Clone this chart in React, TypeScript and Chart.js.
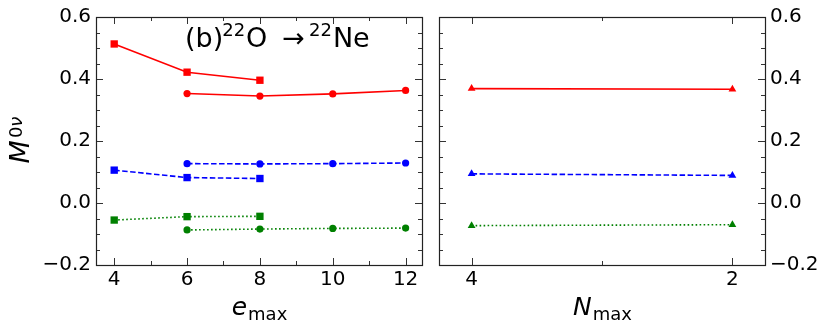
import React, { useEffect, useRef } from "react";
import { Chart, registerables } from "chart.js";
Chart.register(...registerables);

// ---- data ----
const emaxSquares = [4, 6, 8];
const emaxCircles = [6, 8, 10, 12];
const nmaxValues = [4, 2];

const redSquares = [0.513, 0.422, 0.396];
const redCircles = [0.353, 0.345, 0.352, 0.363];
const blueSquares = [0.106, 0.082, 0.079];
const blueCircles = [0.127, 0.126, 0.127, 0.129];
const greenSquares = [-0.055, -0.044, -0.043];
const greenCircles = [-0.087, -0.084, -0.082, -0.081];

const redTriangles = [0.369, 0.367];
const blueTriangles = [0.094, 0.089];
const greenTriangles = [-0.073, -0.07];

const yTicks = [-0.2, 0, 0.2, 0.4, 0.6];
const yMinorTicks = [-0.15, -0.1, -0.05, 0.05, 0.1, 0.15, 0.25, 0.3, 0.35, 0.45, 0.5, 0.55];
const emaxTicks = [4, 6, 8, 10, 12];
const emaxMinorTicks = [5, 7, 9, 11];
const nmaxTicks = [2, 4];
const nmaxMinorTicks = [3];

const RED = "#ff0000";
const BLUE = "#0000ff";
const GREEN = "#008000";
const FONT = "DejaVu Sans";

const fmtY = (v: number) => {
  const s = Math.abs(v) < 1e-9 ? "0.0" : v.toFixed(1);
  return s.replace("-", "\u2212");
};

const pts = (xs: number[], ys: number[]) => xs.map((x, i) => ({ x, y: ys[i] }));

function ds(xs: number[], ys: number[], color: string, style: string, radius: number, dash: number[]) {
  return {
    data: pts(xs, ys),
    showLine: true,
    borderColor: color,
    backgroundColor: color,
    borderWidth: 1.6,
    borderDash: dash,
    pointStyle: style,
    pointRadius: radius,
    pointHoverRadius: radius,
    pointBorderWidth: 0,
    pointBackgroundColor: color,
    tension: 0,
  };
}

const DASHED = [5.5, 2.5];
const DOTTED = [1.6, 2.4];

const frameTicks = {
  id: "frameTicks",
  afterDraw(chart: any, _args: any, opts: any) {
    const ctx = chart.ctx;
    const { left, right, top, bottom } = chart.chartArea;
    const xs = chart.scales.x;
    const ys = chart.scales.y;
    ctx.save();
    ctx.strokeStyle = "#333";
    ctx.lineWidth = 1;
    const vline = (v: number, len: number) => {
      const p = Math.round(xs.getPixelForValue(v)) + 0.5;
      ctx.beginPath();
      ctx.moveTo(p, bottom);
      ctx.lineTo(p, bottom - len);
      ctx.moveTo(p, top);
      ctx.lineTo(p, top + len);
      ctx.stroke();
    };
    const hline = (v: number, len: number) => {
      const p = Math.round(ys.getPixelForValue(v)) + 0.5;
      ctx.beginPath();
      ctx.moveTo(left, p);
      ctx.lineTo(left + len, p);
      ctx.moveTo(right, p);
      ctx.lineTo(right - len, p);
      ctx.stroke();
    };
    opts.xMajor.forEach((v: number) => vline(v, 7));
    opts.xMinor.forEach((v: number) => vline(v, 4));
    opts.yMajor.forEach((v: number) => hline(v, 7));
    opts.yMinor.forEach((v: number) => hline(v, 4));
    ctx.strokeStyle = "#222";
    ctx.lineWidth = 1.2;
    ctx.strokeRect(Math.round(left) + 0.5, Math.round(top) + 0.5, Math.round(right - left), Math.round(bottom - top));
    ctx.restore();
  },
};

const labelsPlugin = {
  id: "labelsPlugin",
  afterDraw(chart: any, _args: any, opts: any) {
    const ctx = chart.ctx;
    const { left, right } = chart.chartArea;
    ctx.save();
    ctx.fillStyle = "#000";
    ctx.textBaseline = "alphabetic";
    ctx.textAlign = "left";
    // x label with subscript
    const mainFont = `italic ${opts.xMainSize}px "${FONT}"`;
    const subFont = `${opts.xSubSize}px "${FONT}"`;
    ctx.font = mainFont;
    const w1 = ctx.measureText(opts.xMain).width;
    ctx.font = subFont;
    const w2 = ctx.measureText("max").width;
    const cx = (left + right) / 2;
    const x0 = cx - (w1 + w2) / 2;
    ctx.font = mainFont;
    ctx.fillText(opts.xMain, x0, opts.xBaseline);
    ctx.font = subFont;
    ctx.fillText("max", x0 + w1 + 1, opts.xBaseline + 5);

    if (opts.yLabel) {
      ctx.save();
      ctx.translate(29, 140);
      ctx.rotate(-Math.PI / 2);
      const mF = `italic 27px "${FONT}"`;
      const zF = `18px "${FONT}"`;
      const nF = `italic 18px "${FONT}"`;
      ctx.font = mF;
      const mw = ctx.measureText("M").width;
      ctx.font = zF;
      const zw = ctx.measureText("0").width;
      ctx.font = nF;
      const nw = ctx.measureText("\u03bd").width;
      const tot = mw + zw + nw + 2;
      let lx = -tot / 2;
      ctx.font = mF;
      ctx.fillText("M", lx, 0);
      lx += mw + 2;
      ctx.font = zF;
      ctx.fillText("0", lx, -7);
      lx += zw;
      ctx.font = nF;
      ctx.fillText("\u03bd", lx, -7);
      ctx.restore();
    }

    if (opts.title) {
      const big = `27px "${FONT}"`;
      const sm = `18px "${FONT}"`;
      const base = 47;
      const supBase = 36;
      let tx = 185;
      const put = (t: string, f: string, y: number, gapAfter = 0) => {
        ctx.font = f;
        ctx.fillText(t, tx, y);
        tx += ctx.measureText(t).width + gapAfter;
      };
      put("(b)", big, base, -1);
      put("22", sm, supBase, 1);
      put("O", big, base, 15);
      put("\u2192", big, base, 4);
      put("22", sm, supBase, 1);
      put("Ne", big, base);
    }
    ctx.restore();
  },
};

function baseScales(xMin: number, xMax: number, xTicksArr: number[], reverse: boolean, yPos: string, yWidth: number, padX: number) {
  return {
    x: {
      type: "linear",
      min: xMin,
      max: xMax,
      reverse,
      afterBuildTicks: (s: any) => {
        s.ticks = xTicksArr.map((v) => ({ value: v }));
      },
      afterFit: (s: any) => {
        s.height = 64;
      },
      grid: { display: false, drawTicks: false },
      border: { display: false },
      ticks: {
        font: { family: FONT, size: 20 },
        color: "#000",
        padding: padX,
        maxRotation: 0,
        autoSkip: false,
        callback: (v: any) => String(v),
      },
    },
    y: {
      type: "linear",
      position: yPos,
      min: -0.2,
      max: 0.6,
      afterBuildTicks: (s: any) => {
        s.ticks = yTicks.map((v) => ({ value: v }));
      },
      afterFit: (s: any) => {
        s.width = yWidth;
      },
      grid: { display: false, drawTicks: false },
      border: { display: false },
      ticks: {
        font: { family: FONT, size: 20 },
        color: "#000",
        padding: 5,
        autoSkip: false,
        callback: (v: any) => fmtY(Number(v)),
      },
    },
  };
}

export default function App() {
  const leftRef = useRef<HTMLCanvasElement>(null);
  const rightRef = useRef<HTMLCanvasElement>(null);

  useEffect(() => {
    Chart.defaults.font.family = FONT;
    const left = new Chart(leftRef.current as HTMLCanvasElement, {
      type: "scatter",
      data: {
        datasets: [
          ds(emaxSquares, redSquares, RED, "rect", 5.2, []),
          ds(emaxCircles, redCircles, RED, "circle", 3.6, []),
          ds(emaxSquares, blueSquares, BLUE, "rect", 5.2, DASHED),
          ds(emaxCircles, blueCircles, BLUE, "circle", 3.6, DASHED),
          ds(emaxSquares, greenSquares, GREEN, "rect", 5.2, DOTTED),
          ds(emaxCircles, greenCircles, GREEN, "circle", 3.6, DOTTED),
        ] as any,
      },
      options: {
        animation: false,
        responsive: false,
        events: [],
        layout: { padding: { top: 15, right: 8, left: 0, bottom: 0 } },
        plugins: {
          legend: { display: false },
          tooltip: { enabled: false },
          frameTicks: { xMajor: emaxTicks, xMinor: emaxMinorTicks, yMajor: yTicks, yMinor: yMinorTicks },
          labelsPlugin: { xMain: "e", xMainSize: 25, xSubSize: 18, xBaseline: 315, yLabel: true, title: true },
        } as any,
        scales: baseScales(3.5, 12.45, emaxTicks, false, "left", 96, 3) as any,
      },
      plugins: [frameTicks, labelsPlugin],
    });

    const right = new Chart(rightRef.current as HTMLCanvasElement, {
      type: "scatter",
      data: {
        datasets: [
          ds(nmaxValues, redTriangles, RED, "triangle", 4.5, []),
          ds(nmaxValues, blueTriangles, BLUE, "triangle", 4.5, DASHED),
          ds(nmaxValues, greenTriangles, GREEN, "triangle", 4.5, DOTTED),
        ] as any,
      },
      options: {
        animation: false,
        responsive: false,
        events: [],
        layout: { padding: { top: 15, right: 0, left: 9, bottom: 0 } },
        plugins: {
          legend: { display: false },
          tooltip: { enabled: false },
          frameTicks: { xMajor: nmaxTicks, xMinor: nmaxMinorTicks, yMajor: yTicks, yMinor: yMinorTicks },
          labelsPlugin: { xMain: "N", xMainSize: 25, xSubSize: 18, xBaseline: 315, yLabel: false, title: false },
        } as any,
        scales: baseScales(1.75, 4.25, nmaxTicks, true, "right", 65, 3) as any,
      },
      plugins: [frameTicks, labelsPlugin],
    });

    return () => {
      left.destroy();
      right.destroy();
    };
  }, []);

  return (
    <div style={{ position: "fixed", left: 0, top: 0, width: 830, height: 329, background: "#fff" }}>
      <canvas ref={leftRef} width={430} height={329} style={{ position: "absolute", left: 0, top: 0, width: 430, height: 329 }} />
      <canvas ref={rightRef} width={400} height={329} style={{ position: "absolute", left: 430, top: 0, width: 400, height: 329 }} />
    </div>
  );
}
